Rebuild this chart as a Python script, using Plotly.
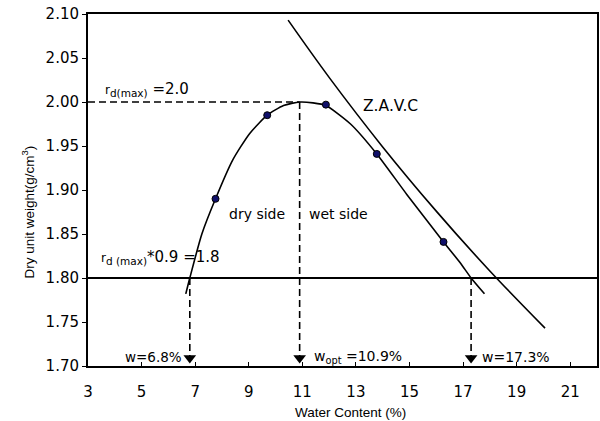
import plotly.graph_objects as go

# Measured compaction test points
test_w = [7.76, 9.69, 11.88, 13.78, 16.27]
test_gd = [1.890, 1.985, 1.997, 1.941, 1.841]

# Compaction curve
curve_w = [6.65, 6.8, 7.25, 7.76, 8.4, 9.03, 9.69, 10.3, 10.9, 11.4, 11.88, 12.8, 13.78, 14.9, 16.27, 16.9, 17.3, 17.8]
curve_gd = [1.782, 1.800, 1.850, 1.890, 1.934, 1.964, 1.985, 1.996, 2.000, 1.999, 1.996, 1.975, 1.941, 1.895, 1.841, 1.817, 1.800, 1.782]

# Zero air voids curve
zavc_w = [10.47, 12.0, 14.0, 16.0, 18.0, 20.06]
zavc_gd = [2.093, 2.028, 1.949, 1.876, 1.808, 1.743]

gd_max = 2.0
gd_90 = 1.8
w_opt = 10.9
w_dry = 6.8
w_wet = 17.3

x_ticks = [3, 5, 7, 9, 11, 13, 15, 17, 19, 21]
y_ticks = [1.70, 1.75, 1.80, 1.85, 1.90, 1.95, 2.00, 2.05, 2.10]
X_MIN, X_MAX = 3, 22
Y_MIN, Y_MAX = 1.70, 2.10

fig = go.Figure()
fig.add_trace(go.Scatter(x=curve_w, y=curve_gd, mode="lines", line=dict(color="black", width=1.6, shape="spline", smoothing=0.6), hoverinfo="skip"))
fig.add_trace(go.Scatter(x=zavc_w, y=zavc_gd, mode="lines", line=dict(color="black", width=1.6, shape="spline"), hoverinfo="skip"))
fig.add_trace(go.Scatter(x=test_w, y=test_gd, mode="markers", marker=dict(color="#10106a", size=7, line=dict(color="black", width=1))))

# Reference lines
DASH = "7px,4px"
fig.add_shape(type="line", x0=X_MIN, x1=X_MAX, y0=gd_90, y1=gd_90, line=dict(color="black", width=2))
fig.add_shape(type="line", x0=X_MIN, x1=w_opt, y0=gd_max, y1=gd_max, line=dict(color="black", width=1.7, dash=DASH))
arrow_y = Y_MIN + 0.009
fig.add_shape(type="line", x0=w_opt, x1=w_opt, y0=gd_max, y1=arrow_y, line=dict(color="black", width=1.6, dash=DASH))
fig.add_shape(type="line", x0=w_dry, x1=w_dry, y0=gd_90, y1=arrow_y, line=dict(color="black", width=1.6, dash=DASH))
fig.add_shape(type="line", x0=w_wet, x1=w_wet, y0=gd_90, y1=arrow_y, line=dict(color="black", width=1.6, dash=DASH))
fig.add_trace(go.Scatter(x=[w_dry, w_opt, w_wet], y=[arrow_y] * 3, mode="markers",
                         marker=dict(symbol="triangle-down", size=11, color="black"), cliponaxis=False))

F = "DejaVu Sans, Arial, sans-serif"
FT = "Liberation Sans, Arial, sans-serif"
ann = [
    dict(x=3.55, y=gd_max, yshift=13, xanchor="left", size=15, text="<span style='font-size:12px'>r</span><sub>d(max)</sub> =2.0"),
    dict(x=3.4, y=gd_90, yshift=21, xanchor="left", size=15, text="<span style='font-size:12px'>r</span><sub>d (max)</sub>*0.9 =1.8"),
    dict(x=9.3, y=1.873, xanchor="center", size=14, text="dry side"),
    dict(x=12.35, y=1.873, xanchor="center", size=14, text="wet side"),
    dict(x=13.2, y=1.996, xanchor="left", size=15.5, text="Z.A.V.C"),
    dict(x=6.6, y=Y_MIN, yshift=9, xanchor="right", size=13.5, text="w=6.8%"),
    dict(x=11.35, y=Y_MIN, yshift=9, xanchor="left", size=14, text="w<sub>opt</sub> =10.9%"),
    dict(x=17.65, y=Y_MIN, yshift=9, xanchor="left", size=14, text="w=17.3%"),
]
for a in ann:
    sz = a.pop("size")
    fig.add_annotation(showarrow=False, yanchor="middle", font=dict(family=F, size=sz, color="black"), **a)

# Axis titles placed as in the reference
fig.add_annotation(xref="paper", yref="paper", x=-0.117, y=0.4375, textangle=-90, showarrow=False,
                   xanchor="center", yanchor="middle", text="Dry unit weight(g/cm<sup>3</sup>)",
                   font=dict(family=FT, size=13.5, color="black"))
fig.add_annotation(xref="paper", yref="paper", x=0.515, y=-0.131, showarrow=False,
                   xanchor="center", yanchor="middle", text="Water Content (%)",
                   font=dict(family=FT, size=13.5, color="black"))

fig.update_layout(
    width=600, height=421, margin=dict(l=88, r=1, t=14, b=55),
    paper_bgcolor="white", plot_bgcolor="white", showlegend=False,
    font=dict(family=F, size=14, color="black"),
)
fig.update_xaxes(range=[X_MIN, X_MAX], tickvals=x_ticks, ticks="inside", ticklen=4, tickcolor="black",
                 showline=True, linecolor="black", linewidth=2, mirror=True, showgrid=False, zeroline=False,
                 ticklabelstandoff=11, tickfont=dict(family=F, size=15))
fig.update_yaxes(range=[Y_MIN, Y_MAX], tickvals=y_ticks, tickformat=".2f", ticks="outside", ticklen=4, tickcolor="black",
                 showline=True, linecolor="black", linewidth=2, mirror=True, showgrid=False, zeroline=False,
                 tickfont=dict(family=F, size=15))

fig.write_html("out.html")
